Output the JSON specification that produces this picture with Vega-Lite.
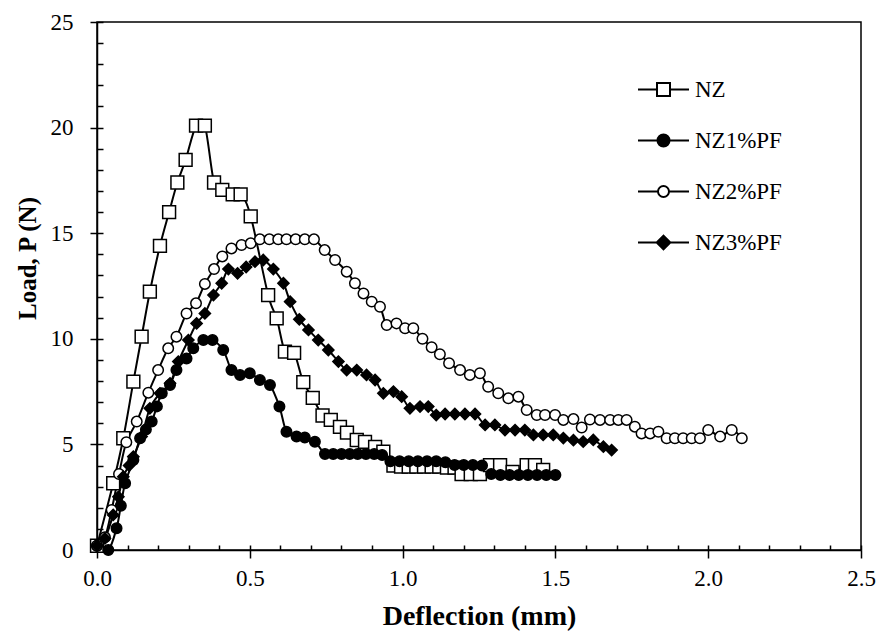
{
"$schema": "https://vega.github.io/schema/vega-lite/v6.json",
"width": 764, "height": 528,
"autosize": {"type": "none"},
"padding": {"left": 97, "top": 22, "right": 19, "bottom": 90},
"background": "white",
"config": {"view": {"stroke": "black", "strokeWidth": 1.5}, "font": "Liberation Serif"},
"data": {"values": [
{"s":"NZ","x":0,"y":0.2},{"s":"NZ","x":0.053,"y":3.16},{"s":"NZ","x":0.086,"y":5.29},{"s":"NZ","x":0.119,"y":7.97},{"s":"NZ","x":0.146,"y":10.1},{"s":"NZ","x":0.173,"y":12.23},{"s":"NZ","x":0.206,"y":14.4},{"s":"NZ","x":0.236,"y":16.0},{"s":"NZ","x":0.263,"y":17.4},{"s":"NZ","x":0.29,"y":18.47},{"s":"NZ","x":0.324,"y":20.09},{"s":"NZ","x":0.353,"y":20.09},{"s":"NZ","x":0.383,"y":17.4},{"s":"NZ","x":0.41,"y":17.05},{"s":"NZ","x":0.444,"y":16.84},{"s":"NZ","x":0.47,"y":16.84},{"s":"NZ","x":0.503,"y":15.8},{"s":"NZ","x":0.56,"y":12.07},{"s":"NZ","x":0.588,"y":10.97},{"s":"NZ","x":0.615,"y":9.39},{"s":"NZ","x":0.645,"y":9.33},{"s":"NZ","x":0.675,"y":7.95},{"s":"NZ","x":0.706,"y":7.2},{"s":"NZ","x":0.738,"y":6.37},{"s":"NZ","x":0.765,"y":6.16},{"s":"NZ","x":0.795,"y":5.83},{"s":"NZ","x":0.818,"y":5.56},{"s":"NZ","x":0.85,"y":5.21},{"s":"NZ","x":0.877,"y":5.12},{"s":"NZ","x":0.91,"y":4.88},{"s":"NZ","x":0.937,"y":4.65},{"s":"NZ","x":0.97,"y":4.0},{"s":"NZ","x":0.995,"y":3.95},{"s":"NZ","x":1.02,"y":3.95},{"s":"NZ","x":1.045,"y":3.95},{"s":"NZ","x":1.07,"y":3.95},{"s":"NZ","x":1.095,"y":3.95},{"s":"NZ","x":1.12,"y":3.95},{"s":"NZ","x":1.145,"y":3.9},{"s":"NZ","x":1.17,"y":3.9},{"s":"NZ","x":1.193,"y":3.6},{"s":"NZ","x":1.223,"y":3.6},{"s":"NZ","x":1.253,"y":3.6},{"s":"NZ","x":1.286,"y":4.02},{"s":"NZ","x":1.319,"y":4.02},{"s":"NZ","x":1.36,"y":3.7},{"s":"NZ","x":1.406,"y":4.02},{"s":"NZ","x":1.433,"y":4.02},{"s":"NZ","x":1.46,"y":3.79},
{"s":"NZ1%PF","x":0,"y":0.2},{"s":"NZ1%PF","x":0.037,"y":0.0},{"s":"NZ1%PF","x":0.064,"y":1.03},{"s":"NZ1%PF","x":0.078,"y":2.1},{"s":"NZ1%PF","x":0.092,"y":3.16},{"s":"NZ1%PF","x":0.119,"y":4.26},{"s":"NZ1%PF","x":0.141,"y":5.29},{"s":"NZ1%PF","x":0.16,"y":5.7},{"s":"NZ1%PF","x":0.179,"y":6.08},{"s":"NZ1%PF","x":0.196,"y":6.8},{"s":"NZ1%PF","x":0.212,"y":7.42},{"s":"NZ1%PF","x":0.239,"y":7.81},{"s":"NZ1%PF","x":0.26,"y":8.52},{"s":"NZ1%PF","x":0.293,"y":9.07},{"s":"NZ1%PF","x":0.315,"y":9.55},{"s":"NZ1%PF","x":0.348,"y":9.94},{"s":"NZ1%PF","x":0.378,"y":9.94},{"s":"NZ1%PF","x":0.413,"y":9.47},{"s":"NZ1%PF","x":0.44,"y":8.52},{"s":"NZ1%PF","x":0.468,"y":8.29},{"s":"NZ1%PF","x":0.5,"y":8.37},{"s":"NZ1%PF","x":0.533,"y":8.05},{"s":"NZ1%PF","x":0.566,"y":7.81},{"s":"NZ1%PF","x":0.597,"y":6.79},{"s":"NZ1%PF","x":0.62,"y":5.6},{"s":"NZ1%PF","x":0.653,"y":5.37},{"s":"NZ1%PF","x":0.68,"y":5.33},{"s":"NZ1%PF","x":0.713,"y":5.13},{"s":"NZ1%PF","x":0.746,"y":4.55},{"s":"NZ1%PF","x":0.773,"y":4.55},{"s":"NZ1%PF","x":0.8,"y":4.55},{"s":"NZ1%PF","x":0.827,"y":4.55},{"s":"NZ1%PF","x":0.853,"y":4.55},{"s":"NZ1%PF","x":0.88,"y":4.55},{"s":"NZ1%PF","x":0.907,"y":4.55},{"s":"NZ1%PF","x":0.933,"y":4.5},{"s":"NZ1%PF","x":0.96,"y":4.2},{"s":"NZ1%PF","x":0.99,"y":4.2},{"s":"NZ1%PF","x":1.02,"y":4.2},{"s":"NZ1%PF","x":1.05,"y":4.2},{"s":"NZ1%PF","x":1.08,"y":4.2},{"s":"NZ1%PF","x":1.11,"y":4.2},{"s":"NZ1%PF","x":1.14,"y":4.15},{"s":"NZ1%PF","x":1.17,"y":4.02},{"s":"NZ1%PF","x":1.2,"y":4.02},{"s":"NZ1%PF","x":1.23,"y":4.02},{"s":"NZ1%PF","x":1.26,"y":4.0},{"s":"NZ1%PF","x":1.29,"y":3.6},{"s":"NZ1%PF","x":1.32,"y":3.55},{"s":"NZ1%PF","x":1.35,"y":3.55},{"s":"NZ1%PF","x":1.38,"y":3.55},{"s":"NZ1%PF","x":1.41,"y":3.55},{"s":"NZ1%PF","x":1.44,"y":3.55},{"s":"NZ1%PF","x":1.47,"y":3.55},{"s":"NZ1%PF","x":1.5,"y":3.55},
{"s":"NZ2%PF","x":0,"y":0.2},{"s":"NZ2%PF","x":0.026,"y":0.6},{"s":"NZ2%PF","x":0.048,"y":1.9},{"s":"NZ2%PF","x":0.072,"y":3.6},{"s":"NZ2%PF","x":0.096,"y":5.1},{"s":"NZ2%PF","x":0.13,"y":6.08},{"s":"NZ2%PF","x":0.168,"y":7.45},{"s":"NZ2%PF","x":0.2,"y":8.52},{"s":"NZ2%PF","x":0.233,"y":9.55},{"s":"NZ2%PF","x":0.26,"y":10.1},{"s":"NZ2%PF","x":0.293,"y":11.2},{"s":"NZ2%PF","x":0.324,"y":11.68},{"s":"NZ2%PF","x":0.353,"y":12.6},{"s":"NZ2%PF","x":0.383,"y":13.3},{"s":"NZ2%PF","x":0.41,"y":13.9},{"s":"NZ2%PF","x":0.44,"y":14.28},{"s":"NZ2%PF","x":0.473,"y":14.44},{"s":"NZ2%PF","x":0.503,"y":14.52},{"s":"NZ2%PF","x":0.533,"y":14.71},{"s":"NZ2%PF","x":0.564,"y":14.71},{"s":"NZ2%PF","x":0.593,"y":14.71},{"s":"NZ2%PF","x":0.62,"y":14.71},{"s":"NZ2%PF","x":0.65,"y":14.71},{"s":"NZ2%PF","x":0.68,"y":14.71},{"s":"NZ2%PF","x":0.71,"y":14.71},{"s":"NZ2%PF","x":0.745,"y":14.2},{"s":"NZ2%PF","x":0.779,"y":13.73},{"s":"NZ2%PF","x":0.817,"y":13.18},{"s":"NZ2%PF","x":0.844,"y":12.63},{"s":"NZ2%PF","x":0.872,"y":12.15},{"s":"NZ2%PF","x":0.899,"y":11.76},{"s":"NZ2%PF","x":0.926,"y":11.52},{"s":"NZ2%PF","x":0.948,"y":10.65},{"s":"NZ2%PF","x":0.98,"y":10.73},{"s":"NZ2%PF","x":1.008,"y":10.5},{"s":"NZ2%PF","x":1.035,"y":10.5},{"s":"NZ2%PF","x":1.065,"y":10.0},{"s":"NZ2%PF","x":1.095,"y":9.6},{"s":"NZ2%PF","x":1.122,"y":9.27},{"s":"NZ2%PF","x":1.152,"y":8.84},{"s":"NZ2%PF","x":1.188,"y":8.52},{"s":"NZ2%PF","x":1.22,"y":8.29},{"s":"NZ2%PF","x":1.253,"y":8.37},{"s":"NZ2%PF","x":1.28,"y":7.73},{"s":"NZ2%PF","x":1.313,"y":7.42},{"s":"NZ2%PF","x":1.346,"y":7.18},{"s":"NZ2%PF","x":1.379,"y":7.26},{"s":"NZ2%PF","x":1.406,"y":6.63},{"s":"NZ2%PF","x":1.439,"y":6.39},{"s":"NZ2%PF","x":1.466,"y":6.39},{"s":"NZ2%PF","x":1.499,"y":6.39},{"s":"NZ2%PF","x":1.526,"y":6.16},{"s":"NZ2%PF","x":1.559,"y":6.2},{"s":"NZ2%PF","x":1.586,"y":5.8},{"s":"NZ2%PF","x":1.613,"y":6.18},{"s":"NZ2%PF","x":1.646,"y":6.16},{"s":"NZ2%PF","x":1.679,"y":6.16},{"s":"NZ2%PF","x":1.706,"y":6.16},{"s":"NZ2%PF","x":1.733,"y":6.16},{"s":"NZ2%PF","x":1.76,"y":5.84},{"s":"NZ2%PF","x":1.782,"y":5.52},{"s":"NZ2%PF","x":1.81,"y":5.52},{"s":"NZ2%PF","x":1.837,"y":5.6},{"s":"NZ2%PF","x":1.864,"y":5.29},{"s":"NZ2%PF","x":1.891,"y":5.29},{"s":"NZ2%PF","x":1.918,"y":5.29},{"s":"NZ2%PF","x":1.946,"y":5.29},{"s":"NZ2%PF","x":1.973,"y":5.29},{"s":"NZ2%PF","x":2.0,"y":5.68},{"s":"NZ2%PF","x":2.039,"y":5.37},{"s":"NZ2%PF","x":2.077,"y":5.68},{"s":"NZ2%PF","x":2.11,"y":5.29},
{"s":"NZ3%PF","x":0,"y":0.2},{"s":"NZ3%PF","x":0.026,"y":0.55},{"s":"NZ3%PF","x":0.053,"y":1.66},{"s":"NZ3%PF","x":0.07,"y":2.52},{"s":"NZ3%PF","x":0.086,"y":3.47},{"s":"NZ3%PF","x":0.105,"y":4.0},{"s":"NZ3%PF","x":0.119,"y":4.42},{"s":"NZ3%PF","x":0.146,"y":5.37},{"s":"NZ3%PF","x":0.173,"y":6.71},{"s":"NZ3%PF","x":0.206,"y":7.42},{"s":"NZ3%PF","x":0.239,"y":7.89},{"s":"NZ3%PF","x":0.266,"y":8.92},{"s":"NZ3%PF","x":0.299,"y":9.94},{"s":"NZ3%PF","x":0.326,"y":10.73},{"s":"NZ3%PF","x":0.353,"y":11.2},{"s":"NZ3%PF","x":0.381,"y":12.07},{"s":"NZ3%PF","x":0.408,"y":12.63},{"s":"NZ3%PF","x":0.43,"y":13.3},{"s":"NZ3%PF","x":0.46,"y":13.1},{"s":"NZ3%PF","x":0.488,"y":13.4},{"s":"NZ3%PF","x":0.517,"y":13.65},{"s":"NZ3%PF","x":0.544,"y":13.73},{"s":"NZ3%PF","x":0.577,"y":13.3},{"s":"NZ3%PF","x":0.61,"y":12.63},{"s":"NZ3%PF","x":0.632,"y":11.76},{"s":"NZ3%PF","x":0.662,"y":10.92},{"s":"NZ3%PF","x":0.692,"y":10.42},{"s":"NZ3%PF","x":0.724,"y":9.94},{"s":"NZ3%PF","x":0.757,"y":9.47},{"s":"NZ3%PF","x":0.79,"y":8.92},{"s":"NZ3%PF","x":0.817,"y":8.52},{"s":"NZ3%PF","x":0.85,"y":8.52},{"s":"NZ3%PF","x":0.882,"y":8.29},{"s":"NZ3%PF","x":0.91,"y":8.05},{"s":"NZ3%PF","x":0.937,"y":7.42},{"s":"NZ3%PF","x":0.97,"y":7.5},{"s":"NZ3%PF","x":0.997,"y":7.26},{"s":"NZ3%PF","x":1.024,"y":6.71},{"s":"NZ3%PF","x":1.057,"y":6.79},{"s":"NZ3%PF","x":1.084,"y":6.79},{"s":"NZ3%PF","x":1.11,"y":6.39},{"s":"NZ3%PF","x":1.139,"y":6.44},{"s":"NZ3%PF","x":1.171,"y":6.44},{"s":"NZ3%PF","x":1.204,"y":6.44},{"s":"NZ3%PF","x":1.237,"y":6.44},{"s":"NZ3%PF","x":1.27,"y":5.92},{"s":"NZ3%PF","x":1.302,"y":5.92},{"s":"NZ3%PF","x":1.335,"y":5.68},{"s":"NZ3%PF","x":1.368,"y":5.68},{"s":"NZ3%PF","x":1.4,"y":5.68},{"s":"NZ3%PF","x":1.428,"y":5.45},{"s":"NZ3%PF","x":1.46,"y":5.45},{"s":"NZ3%PF","x":1.493,"y":5.45},{"s":"NZ3%PF","x":1.526,"y":5.3},{"s":"NZ3%PF","x":1.559,"y":5.2},{"s":"NZ3%PF","x":1.591,"y":5.13},{"s":"NZ3%PF","x":1.624,"y":5.21},{"s":"NZ3%PF","x":1.657,"y":4.89},{"s":"NZ3%PF","x":1.684,"y":4.73}
]},
"resolve": {"axis": {"x": "independent", "y": "independent"}},
"layer": [
 {"mark": {"type": "line", "interpolate": "cardinal", "color": "black", "strokeWidth": 2},
  "encoding": {
   "x": {"field": "x", "type": "quantitative", "title": "Deflection (mm)",
    "scale": {"domain": [0, 2.5], "nice": false, "zero": false},
    "axis": {"orient": "bottom", "values": [0, 0.5, 1, 1.5, 2, 2.5], "format": ".1f",
     "grid": false, "domainColor": "black", "domainWidth": 1.5, "tickColor": "black", "tickWidth": 1.5, "tickSize": 8,
     "labelFont": "Liberation Serif", "labelFontSize": 23, "labelColor": "black", "labelPadding": 9, "labelOverlap": false, "labelFlush": false,
     "titleFont": "Liberation Serif", "titleFontSize": 28, "titleFontWeight": "bold", "titleColor": "black", "titlePadding": 12}},
   "y": {"field": "y", "type": "quantitative", "title": "Load, P (N)",
    "scale": {"domain": [0, 25], "nice": false, "zero": false},
    "axis": {"orient": "left", "values": [0, 5, 10, 15, 20, 25], "format": "d",
     "grid": false, "domainColor": "black", "domainWidth": 1.5, "tickColor": "black", "tickWidth": 1.5, "tickSize": 7,
     "labelFont": "Liberation Serif", "labelFontSize": 23, "labelColor": "black", "labelPadding": 17, "labelOverlap": false, "labelFlush": false,
     "titleFont": "Liberation Serif", "titleFontSize": 25, "titleFontWeight": "bold", "titleColor": "black", "titlePadding": 10, "titleY": 236}},
   "detail": {"field": "s", "type": "nominal"}}},
 {"mark": {"type": "point", "filled": true, "stroke": "black", "strokeWidth": 1.5, "opacity": 1, "fillOpacity": 1},
  "encoding": {
   "x": {"field": "x", "type": "quantitative",
    "axis": {"orient": "top", "offset": -528, "values": [0,0.1,0.2,0.3,0.4,0.5,0.6,0.7,0.8,0.9,1,1.1,1.2,1.3,1.4,1.5,1.6,1.7,1.8,1.9,2,2.1,2.2,2.3,2.4,2.5],
     "labels": false, "domain": false, "grid": false, "title": null, "tickColor": "black", "tickWidth": 1.5, "tickSize": 5}},
   "y": {"field": "y", "type": "quantitative",
    "axis": {"orient": "right", "offset": -764, "values": [0,1,2,3,4,5,6,7,8,9,10,11,12,13,14,15,16,17,18,19,20,21,22,23,24,25],
     "labels": false, "domain": false, "grid": false, "title": null, "tickColor": "black", "tickWidth": 1.5, "tickSize": 6}},
   "shape": {"condition": [{"test": "datum.s === 'NZ'", "value": "square"}, {"test": "datum.s === 'NZ3%PF'", "value": "diamond"}], "value": "circle"},
   "fill": {"condition": {"test": "datum.s === 'NZ1%PF' || datum.s === 'NZ3%PF'", "value": "black"}, "value": "white"},
   "size": {"condition": [{"test": "datum.s === 'NZ'", "value": 165}, {"test": "datum.s === 'NZ3%PF'", "value": 125}], "value": 110}}},
 {"transform": [{"filter": "datum.x < 0"}],
  "mark": {"type": "point", "filled": true, "stroke": "black", "strokeWidth": 2, "opacity": 1, "size": 400},
  "encoding": {
   "x": {"field": "x", "type": "quantitative", "axis": null},
   "y": {"field": "y", "type": "quantitative", "axis": null},
   "shape": {"field": "s", "type": "nominal",
     "scale": {"domain": ["NZ", "NZ1%PF", "NZ2%PF", "NZ3%PF"],
       "range": ["M-2.55,0H-0.65M0.65,0H2.55M-0.65,-0.65H0.65V0.65H-0.65Z",
                 "M-2.55,0H2.55M-0.6,0A0.6,0.6 0 1,0 0.6,0A0.6,0.6 0 1,0 -0.6,0Z",
                 "M-2.55,0H-0.55M0.55,0H2.55M-0.55,0A0.55,0.55 0 1,0 0.55,0A0.55,0.55 0 1,0 -0.55,0Z",
                 "M-2.55,0H2.55M0,-0.68L0.68,0L0,0.68L-0.68,0Z"]},
     "legend": {"orient": "none", "legendX": 555, "legendY": 56, "title": null, "padding": 0,
       "labelFont": "Liberation Serif", "labelFontSize": 23, "labelColor": "black", "labelOffset": 20, "labelLimit": 200,
       "rowPadding": 27, "symbolSize": 400, "symbolStrokeWidth": 2, "symbolOpacity": 1}},
   "fill": {"field": "s", "type": "nominal",
     "scale": {"domain": ["NZ", "NZ1%PF", "NZ2%PF", "NZ3%PF"], "range": ["white", "black", "white", "black"]},
     "legend": {"orient": "none", "legendX": 555, "legendY": 56, "title": null, "padding": 0,
       "labelFont": "Liberation Serif", "labelFontSize": 23, "labelColor": "black", "labelOffset": 20, "labelLimit": 200,
       "rowPadding": 27, "symbolSize": 400, "symbolStrokeWidth": 2, "symbolOpacity": 1}},
   "stroke": {"field": "s", "type": "nominal",
     "scale": {"domain": ["NZ", "NZ1%PF", "NZ2%PF", "NZ3%PF"], "range": ["black", "black", "black", "black"]},
     "legend": {"orient": "none", "legendX": 555, "legendY": 56, "title": null, "padding": 0,
       "labelFont": "Liberation Serif", "labelFontSize": 23, "labelColor": "black", "labelOffset": 20, "labelLimit": 200,
       "rowPadding": 27, "symbolSize": 400, "symbolStrokeWidth": 2, "symbolOpacity": 1}}}}
]
}
